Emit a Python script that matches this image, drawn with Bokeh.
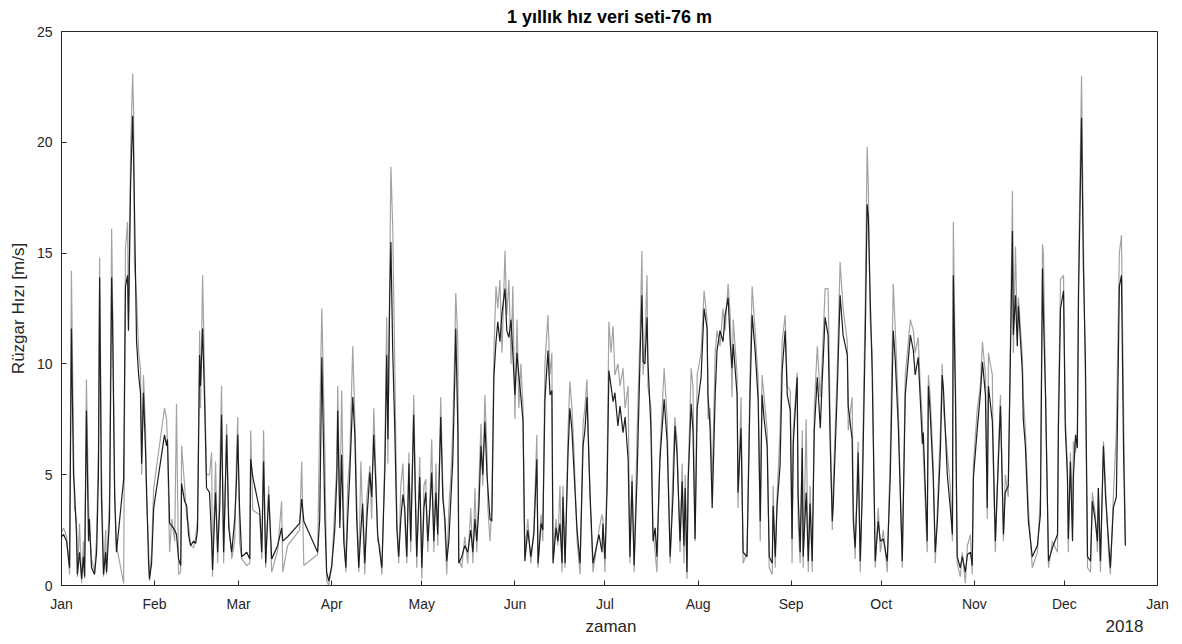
from bokeh.plotting import figure
from bokeh.models import Range1d, FixedTicker, LinearAxis
from bokeh.embed import file_html
from bokeh.resources import INLINE

baslik = "1 yıllık hız veri seti-76 m"
x_etiket = "zaman"
y_etiket = "Rüzgar Hızı [m/s]"
ay_gun = [0, 31, 59, 90, 120, 151, 181, 212, 243, 273, 304, 334, 365]
ay_adi = ["Jan", "Feb", "Mar", "Apr", "May", "Jun", "Jul", "Aug", "Sep", "Oct", "Nov", "Dec", "Jan"]
yil = "2018"
y_ticks = [0, 5, 10, 15, 20, 25]

# day of year (0 = 1 Jan 2017)
gun = [
    0.0, 0.7, 1.7, 2.7, 3.3, 4.0, 4.3, 5.0, 5.3, 6.0,
    6.7, 7.3, 7.7, 8.3, 9.0, 9.3, 10.0, 11.0, 11.7, 12.3,
    12.7, 13.3, 14.0, 14.7, 15.0, 16.0, 16.7, 17.0, 17.7, 18.3,
    20.7, 21.3, 22.0, 22.3, 23.0, 23.7, 24.0, 24.3, 25.0, 25.7,
    26.3, 26.7, 27.3, 28.0, 28.3, 29.0, 29.3, 30.0, 30.7, 34.3,
    35.0, 35.3, 36.0, 36.7, 37.7, 38.3, 39.0, 39.7, 40.0, 41.0,
    41.7, 42.3, 43.0, 44.0, 44.7, 45.3, 46.0, 46.3, 47.0, 47.7,
    48.3, 49.3, 50.0, 50.3, 51.3, 52.0, 52.7, 53.3, 54.0, 55.0,
    55.7, 56.7, 57.7, 58.3, 58.7, 59.3, 60.0, 61.7, 62.7, 63.0,
    63.7, 66.0, 66.7, 67.3, 68.0, 69.0, 70.0, 72.0, 73.3, 73.7,
    75.3, 79.3, 80.0, 80.7, 85.3, 86.0, 86.7, 87.7, 88.3, 89.0,
    90.0, 91.0, 91.7, 92.0, 92.7, 93.3, 94.0, 94.7, 95.3, 96.0,
    97.0, 97.7, 98.3, 99.0, 99.7, 100.3, 101.0, 101.7, 102.7, 103.3,
    104.0, 104.7, 105.3, 106.0, 106.7, 107.7, 108.3, 108.7, 109.3, 109.7,
    110.3, 111.0, 111.7, 112.3, 113.0, 113.7, 114.3, 115.0, 115.7, 116.3,
    117.3, 118.0, 118.3, 119.3, 120.0, 120.7, 121.3, 122.0, 122.7, 123.3,
    124.0, 124.7, 125.3, 126.3, 127.0, 127.7, 128.3, 129.0, 129.7, 130.3,
    131.0, 131.3, 132.0, 132.3, 133.3, 134.3, 135.3, 136.3, 137.0, 137.7,
    138.3, 139.0, 139.7, 140.3, 141.0, 141.7, 142.0, 142.7, 143.3, 144.0,
    144.7, 145.3, 146.0, 146.7, 147.7, 148.3, 149.0, 149.7, 150.3, 151.0,
    151.7, 152.3, 153.0, 153.7, 154.3, 155.3, 156.3, 157.3, 158.3, 158.7,
    159.7, 160.3, 161.0, 162.0, 162.7, 163.3, 163.7, 164.7, 165.3, 166.0,
    166.7, 167.0, 167.7, 168.7, 169.3, 170.0, 170.7, 171.7, 172.7, 173.7,
    174.3, 175.0, 176.0, 177.0, 179.0, 180.0, 180.3, 181.0, 181.7, 182.3,
    183.0, 183.7, 184.3, 185.3, 186.0, 187.0, 187.7, 188.7, 189.3, 190.0,
    190.7, 191.7, 192.7, 193.3, 193.7, 194.3, 195.0, 195.3, 196.3, 197.0,
    197.7, 198.3, 199.3, 200.7, 201.7, 202.7, 203.7, 204.3, 205.0, 206.0,
    206.7, 207.3, 207.7, 208.3, 208.7, 209.7, 210.3, 211.0, 211.7, 213.0,
    214.0, 215.0, 215.3, 216.0, 216.7, 217.7, 218.3, 219.3, 220.3, 221.0,
    222.0, 222.7, 223.3, 223.7, 225.0, 225.3, 226.3, 227.0, 228.3, 229.3,
    230.0, 231.0, 232.0, 232.7, 233.3, 234.0, 235.0, 235.7, 236.7, 237.0,
    237.7, 238.3, 239.3, 240.0, 241.0, 241.7, 242.7, 243.3, 243.7, 245.0,
    245.3, 246.0, 246.7, 247.0, 248.0, 248.7, 249.3, 250.0, 250.7, 251.7,
    252.7, 253.3, 254.3, 255.3, 256.0, 256.7, 257.0, 258.3, 259.3, 260.3,
    261.7, 262.0, 263.3, 263.7, 264.3, 265.0, 265.3, 266.0, 266.7, 267.7,
    268.3, 268.7, 269.3, 270.0, 271.0, 272.0, 272.7, 273.7, 275.0, 276.0,
    277.0, 277.7, 278.7, 280.0, 281.0, 282.7, 283.7, 284.3, 285.3, 286.0,
    286.7, 287.0, 288.3, 288.7, 289.3, 290.3, 291.0, 291.7, 292.7, 293.3,
    293.7, 295.0, 296.0, 296.7, 297.0, 297.7, 298.3, 299.3, 300.0, 301.0,
    301.7, 302.7, 303.3, 303.7, 305.0, 306.0, 306.7, 307.7, 308.3, 308.7,
    310.0, 310.3, 311.0, 312.0, 312.7, 313.7, 314.3, 315.3, 316.7, 317.0,
    317.7, 318.3, 318.7, 320.0, 320.3, 321.0, 322.0, 323.3, 325.0, 326.0,
    326.7, 327.0, 327.7, 328.7, 330.0, 331.7, 332.0, 332.7, 333.7, 334.3,
    335.0, 335.3, 336.0, 336.7, 337.0, 337.7, 338.3, 338.7, 339.7, 340.3,
    341.0, 341.7, 342.7, 343.3, 344.3, 345.0, 345.3, 346.0, 347.0, 347.7,
    348.7, 349.3, 350.3, 351.3, 352.3, 353.0, 353.7, 354.3,
]

# smoothed (dark) series, m/s
hiz_siyah = [
    2.2, 2.3, 2.0, 0.8, 11.6, 5.0, 4.4, 2.3, 0.5, 1.5,
    0.3, 1.3, 0.4, 7.9, 2.0, 3.0, 0.8, 0.5, 1.5, 5.0,
    13.9, 4.0, 0.5, 1.5, 0.6, 3.0, 13.9, 12.0, 4.0, 1.5,
    4.8, 13.5, 14.0, 11.5, 18.0, 21.2, 19.5, 17.0, 11.0, 9.5,
    8.7, 5.5, 8.7, 6.0, 4.5, 1.0, 0.3, 1.0, 3.5, 6.8,
    6.3, 6.6, 2.8, 2.7, 2.5, 2.3, 1.2, 0.9, 4.6, 3.8,
    3.6, 2.3, 1.8, 2.0, 1.9, 2.5, 10.4, 9.0, 11.6, 8.1,
    4.4, 4.2, 2.0, 0.7, 4.2, 1.5, 3.5, 7.7, 1.5, 6.8,
    2.6, 1.5, 3.0, 4.8, 6.8, 3.5, 1.3, 1.5, 1.2, 5.7,
    4.9, 3.4, 1.5, 5.6, 1.0, 4.1, 1.2, 1.8, 2.6, 2.0,
    2.2, 2.8, 3.9, 2.9, 1.5, 3.0, 10.3, 3.1, 0.6, 0.2,
    0.9, 2.5, 4.9, 7.9, 2.6, 5.9, 2.0, 0.8, 3.0, 5.0,
    8.5, 6.8, 3.0, 0.8, 2.5, 3.7, 1.0, 3.0, 5.1, 4.0,
    6.8, 4.5, 2.3, 1.5, 0.8, 5.3, 10.4, 6.6, 13.0, 15.5,
    10.6, 7.0, 2.5, 1.3, 3.0, 4.1, 3.5, 1.3, 5.5, 2.0,
    7.7, 3.0, 1.3, 4.9, 0.8, 3.5, 4.2, 2.0, 3.5, 5.1,
    2.0, 4.2, 2.3, 7.6, 3.9, 3.0, 1.1, 2.0, 4.0, 5.6,
    9.5, 11.6, 7.0, 1.0, 1.3, 1.8, 1.5, 2.5, 1.5, 3.0,
    2.0, 3.5, 6.3, 5.0, 7.4, 5.0, 4.4, 3.0, 2.9, 9.4,
    11.0, 11.9, 11.0, 12.3, 13.4, 11.5, 11.2, 12.0, 10.5, 8.6,
    10.5, 9.5, 8.5, 7.4, 1.1, 2.5, 1.3, 2.3, 5.7, 1.0,
    2.8, 2.5, 8.4, 10.6, 8.6, 8.8, 1.0, 2.6, 2.0, 2.8,
    1.0, 4.0, 1.0, 6.0, 8.0, 7.0, 5.1, 2.5, 1.0, 6.3,
    7.0, 8.5, 4.2, 1.0, 2.3, 1.5, 2.8, 1.2, 4.4, 9.7,
    9.0, 8.3, 8.7, 7.2, 8.1, 6.9, 7.6, 5.7, 1.3, 4.7,
    0.9, 5.0, 10.4, 13.1, 10.1, 10.0, 12.1, 10.1, 7.1, 2.0,
    2.6, 1.3, 5.7, 8.4, 6.5, 1.3, 4.2, 7.2, 5.9, 2.0,
    4.7, 1.8, 4.4, 0.6, 4.7, 8.2, 7.0, 2.1, 8.0, 9.4,
    12.5, 11.6, 8.6, 7.1, 3.5, 8.6, 10.6, 11.5, 11.0, 12.2,
    13.0, 11.0, 9.8, 10.9, 8.6, 4.2, 7.1, 1.5, 1.3, 8.6,
    12.2, 10.6, 8.4, 2.9, 8.6, 7.5, 6.3, 1.3, 1.0, 3.6,
    1.3, 3.6, 5.4, 9.7, 11.5, 8.6, 7.9, 2.1, 6.4, 9.4,
    4.2, 1.5, 6.2, 1.3, 4.2, 1.1, 3.7, 1.1, 7.0, 9.4,
    7.1, 9.1, 12.1, 11.3, 6.4, 2.9, 3.6, 8.6, 13.1, 11.3,
    10.4, 8.1, 6.6, 2.9, 1.7, 4.2, 6.0, 1.1, 4.2, 11.5,
    17.2, 16.6, 13.1, 9.5, 1.1, 2.9, 2.0, 2.1, 1.1, 4.9,
    11.5, 10.1, 7.1, 1.1, 8.6, 11.3, 10.6, 9.5, 10.3, 8.4,
    6.4, 6.9, 2.0, 9.0, 7.8, 4.9, 1.5, 2.9, 6.1, 9.5,
    8.9, 5.0, 3.5, 2.3, 14.0, 8.6, 1.3, 0.8, 1.3, 0.6,
    1.4, 1.5, 0.9, 4.9, 7.1, 8.6, 10.1, 8.6, 3.5, 9.0,
    7.4, 6.0, 2.0, 5.6, 8.1, 2.3, 4.2, 4.5, 16.0, 11.3,
    13.1, 10.8, 12.6, 9.6, 7.5, 6.3, 2.9, 1.3, 1.8, 3.2,
    14.3, 12.3, 8.6, 1.1, 1.7, 2.3, 7.1, 12.5, 13.3, 7.1,
    4.9, 2.1, 5.6, 2.0, 4.9, 6.8, 6.2, 13.1, 21.1, 14.5,
    10.1, 1.3, 1.1, 3.8, 2.9, 2.0, 4.4, 1.1, 6.3, 4.0,
    2.0, 0.8, 3.5, 4.0, 13.5, 14.0, 6.0, 1.8,
]

# raw (grey) series, m/s
hiz_gri = [
    2.4, 2.6, 2.2, 0.5, 14.2, 6.5, 3.5, 3.0, 0.4, 2.8,
    0.1, 2.0, 0.3, 9.3, 3.7, 2.5, 1.2, 0.6, 2.2, 6.2,
    14.8, 5.5, 0.4, 2.5, 0.5, 4.0, 16.1, 13.0, 4.5, 1.8,
    0.1, 15.2, 16.4, 12.0, 19.5, 23.1, 21.5, 14.5, 13.0, 10.5,
    9.8, 5.0, 9.5, 7.0, 4.0, 1.8, 0.2, 1.5, 4.4, 8.0,
    7.5, 6.3, 1.5, 3.0, 2.0, 8.2, 0.5, 0.6, 6.3, 4.5,
    3.0, 2.8, 1.8, 1.7, 2.2, 3.0, 11.5, 8.0, 14.0, 9.0,
    5.0, 5.0, 6.0, 0.4, 5.6, 1.0, 5.0, 9.0, 1.0, 7.3,
    3.0, 1.2, 2.0, 6.0, 7.6, 2.0, 1.2, 0.9, 1.0, 7.0,
    3.4, 3.2, 1.2, 7.0, 0.8, 4.5, 0.6, 1.6, 3.8, 0.6,
    1.8, 2.5, 5.6, 0.9, 1.4, 7.5, 12.5, 6.0, 0.2, 0.0,
    0.8, 3.5, 5.5, 9.0, 3.0, 8.8, 3.0, 0.6, 4.5, 5.8,
    10.8, 7.5, 4.0, 0.6, 5.6, 3.0, 0.5, 4.0, 5.4, 3.0,
    8.0, 5.0, 2.0, 1.8, 0.5, 6.0, 12.1, 5.5, 14.0, 18.9,
    16.2, 9.8, 3.0, 1.0, 4.5, 5.5, 3.0, 1.0, 6.0, 1.5,
    8.6, 3.5, 0.8, 5.8, 0.3, 4.5, 4.8, 1.5, 4.0, 6.6,
    1.5, 5.5, 1.8, 8.5, 4.5, 2.5, 0.5, 3.5, 5.0, 7.0,
    11.0, 13.2, 11.0, 1.2, 0.8, 2.2, 1.0, 3.5, 1.0, 4.4,
    1.5, 4.5, 7.3, 4.5, 8.6, 6.0, 3.5, 2.0, 3.5, 10.5,
    13.5, 12.5, 13.8, 10.5, 15.1, 12.2, 13.8, 10.0, 13.5, 7.5,
    12.0, 8.0, 10.0, 8.0, 1.5, 3.0, 1.0, 2.5, 6.8, 0.8,
    3.2, 2.0, 10.0, 12.2, 9.5, 10.5, 1.2, 3.0, 1.8, 4.5,
    0.6, 4.5, 0.8, 7.0, 9.2, 8.0, 6.0, 2.0, 0.5, 7.3,
    8.0, 9.3, 4.0, 0.6, 2.5, 3.2, 3.0, 0.6, 5.2, 11.9,
    10.5, 11.7, 9.5, 10.0, 9.0, 9.8, 8.0, 9.0, 1.0, 5.0,
    0.6, 7.0, 11.5, 15.1, 9.5, 11.0, 14.0, 9.0, 8.0, 2.5,
    1.5, 0.6, 6.0, 9.8, 7.5, 1.0, 5.5, 7.6, 6.5, 1.5,
    5.5, 1.0, 5.0, 0.3, 5.0, 9.8, 9.0, 2.0, 9.5, 10.5,
    13.3, 12.0, 7.5, 8.0, 4.5, 10.5, 11.5, 10.8, 12.5, 11.5,
    13.6, 12.2, 8.5, 12.0, 9.5, 3.5, 8.5, 1.0, 1.5, 9.5,
    13.5, 11.5, 9.3, 2.0, 9.5, 8.5, 7.0, 0.8, 0.5, 4.5,
    0.8, 4.0, 7.0, 11.0, 12.2, 9.0, 8.8, 1.0, 7.0, 9.6,
    3.0, 1.0, 7.0, 0.8, 7.5, 0.6, 4.5, 0.6, 8.0, 10.8,
    8.5, 10.0, 13.4, 13.4, 7.5, 2.5, 4.5, 9.5, 14.6, 12.5,
    11.0, 7.0, 8.5, 3.5, 1.2, 5.0, 6.5, 0.6, 5.0, 13.0,
    19.8, 18.0, 12.0, 10.5, 0.8, 3.5, 1.5, 2.5, 0.6, 6.0,
    13.6, 11.5, 8.0, 0.8, 9.5, 12.0, 11.5, 10.5, 11.2, 9.0,
    7.5, 6.0, 1.5, 9.5, 8.5, 5.5, 1.0, 3.5, 7.0, 10.0,
    8.0, 6.0, 4.5, 2.0, 16.4, 9.5, 1.0, 0.4, 1.5, 0.1,
    1.8, 2.3, 0.5, 5.5, 8.0, 9.0, 11.0, 9.5, 3.0, 10.5,
    9.5, 5.5, 1.5, 6.0, 8.6, 2.0, 5.0, 4.0, 17.8, 10.5,
    15.3, 11.5, 13.0, 10.3, 8.5, 7.0, 3.5, 0.8, 1.5, 4.0,
    15.4, 15.0, 9.0, 0.8, 2.0, 1.5, 8.0, 13.8, 14.0, 7.5,
    5.5, 1.5, 6.0, 2.5, 6.5, 6.0, 7.0, 14.0, 23.0, 16.0,
    9.0, 0.8, 0.6, 4.2, 3.2, 1.5, 4.4, 0.6, 6.5, 4.5,
    1.5, 0.5, 4.0, 7.0, 15.0, 15.8, 8.0, 1.8,
]

# positions (day of year) of the lower text row
alt_satir_gun = [183, 354]
alt_satir_metin = [x_etiket, yil]

FONT = "Liberation Sans"
TXT = "#262626"

p = figure(width=1174, height=640, output_backend="svg", toolbar_location=None,
           x_range=Range1d(0, 365), y_range=Range1d(0, 25),
           min_border_left=61, min_border_right=17, min_border_top=30, min_border_bottom=55,
           title=baslik)
p.title.text_font = FONT
p.title.text_font_size = "18px"
p.title.text_font_style = "bold"
p.title.text_color = "#000000"
p.title.align = "center"
p.title.standoff = 9

p.line(gun, hiz_gri, line_color="#a3a3a3", line_width=1.2)
p.line(gun, hiz_siyah, line_color="#1e1e1e", line_width=1.2)

p.grid.visible = False
p.outline_line_color = TXT
p.outline_line_width = 1
p.background_fill_color = "white"
p.border_fill_color = "white"

xa = p.xaxis[0]
xa.ticker = FixedTicker(ticks=ay_gun)
xa.major_label_overrides = {d: n for d, n in zip(ay_gun, ay_adi)}
ya = p.yaxis[0]
ya.ticker = FixedTicker(ticks=y_ticks)
ya.axis_label = y_etiket
for ax in (xa, ya):
    ax.axis_line_color = TXT
    ax.major_tick_line_color = TXT
    ax.major_tick_in = 5
    ax.major_tick_out = 0
    ax.minor_tick_line_color = None
    ax.major_label_text_font = FONT
    ax.major_label_text_font_size = "14px"
    ax.major_label_text_color = TXT
    ax.axis_label_text_font = FONT
    ax.axis_label_text_font_size = "17px"
    ax.axis_label_text_font_style = "normal"
    ax.axis_label_text_color = TXT
xa.major_label_standoff = 10
ya.major_label_standoff = 9
ya.axis_label_standoff = 6

xa2 = LinearAxis(ticker=FixedTicker(ticks=alt_satir_gun),
                 major_label_overrides={d: t for d, t in zip(alt_satir_gun, alt_satir_metin)},
                 axis_line_color=None, major_tick_line_color=None, minor_tick_line_color=None,
                 major_tick_in=0, major_tick_out=0, major_label_standoff=2,
                 major_label_text_font=FONT, major_label_text_font_size="17px",
                 major_label_text_color=TXT)
p.add_layout(xa2, "below")

open("out.html", "w").write(file_html(p, INLINE))
